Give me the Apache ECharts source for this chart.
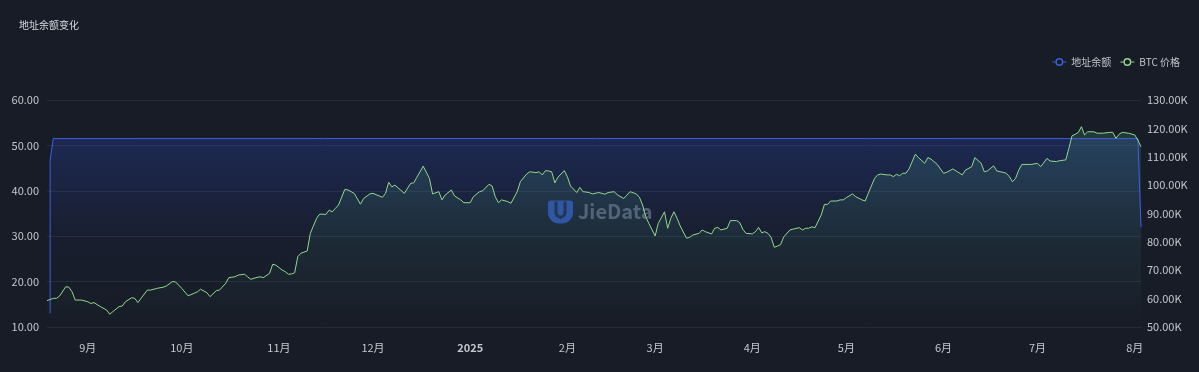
<!DOCTYPE html>
<html>
<head>
<meta charset="utf-8">
<script src="https://cdn.jsdelivr.net/npm/echarts@6/dist/echarts.min.js"></script>
<style>
  html, body { margin: 0; padding: 0; background: #131820; }
  #chart { width: 1199px; height: 372px; }
</style>
</head>
<body>
<div id="chart"></div>
<script>
// Day offsets are counted from the start date below (2024-08-19).
const startDate = [2024, 7, 19];
const seriesNames = ['地址余额', 'BTC 价格'];
const seriesColors = ['#3d5fe0', '#8fd98a'];

// 地址余额 (left axis)
const balanceDays   = [1, 1, 2, 348, 349];
const balanceValues = [13.0, 46.7, 51.5, 51.5, 32.0];

// BTC 价格 in K USD (right axis)
const btcDays = [
  0, 2, 3, 4, 6, 7, 8, 9, 11, 13, 14, 15, 17, 19, 20, 21, 23, 24, 25, 27, 28, 29, 30, 32, 33, 35, 37, 38, 40, 41,
  43, 45, 47, 48, 49, 51, 52, 54, 55, 57, 58, 60, 61, 63, 64, 65, 67, 68, 69, 71, 72, 73, 75, 76, 77, 78, 79, 80, 81, 83,
  84, 86, 87, 89, 90, 91, 92, 93, 95, 96, 98, 100, 101, 103, 104, 107, 108, 109, 110, 111, 114, 116, 117, 118, 119, 120, 122, 123, 125, 126,
  127, 129, 130, 132, 133, 135, 136, 138, 139, 141, 142, 143, 144, 145, 147, 148, 150, 151, 153, 154, 156, 157, 158, 159, 160, 161, 162, 163, 165, 166,
  167, 169, 170, 171, 173, 174, 176, 178, 179, 181, 182, 184, 185, 186, 188, 189, 190, 191, 192, 194, 195, 197, 198, 199, 200, 201, 202, 204, 205, 206,
  208, 209, 210, 212, 213, 214, 215, 217, 218, 220, 221, 222, 223, 225, 226, 227, 228, 229, 230, 231, 232, 233, 234, 235, 237, 238, 240, 241, 242, 243,
  244, 245, 247, 248, 249, 250, 252, 253, 254, 255, 257, 258, 260, 261, 262, 264, 265, 266, 268, 269, 270, 271, 272, 273, 274, 275, 276, 277, 278, 280,
  281, 282, 284, 286, 287, 289, 290, 292, 293, 295, 296, 298, 299, 300, 302, 303, 305, 306, 307, 308, 309, 310, 311, 313, 314, 316, 317, 319, 320, 322,
  323, 325, 326, 327, 328, 329, 330, 331, 332, 334, 335, 337, 339, 340, 341, 342, 343, 345, 347, 348, 349
];
const btcPrice = [
  59.3, 60.1, 60.1, 60.9, 64.2, 64.0, 62.4, 59.5, 59.5, 58.9, 58.3, 58.6, 57.2, 56.0, 54.5, 55.4, 57.2, 57.4, 58.9, 60.3, 60.1, 58.6, 60.1, 63.0, 63.0, 63.6, 64.0, 64.4, 66.0, 65.9,
  63.6, 61.0, 61.9, 62.4, 63.3, 62.1, 60.7, 62.8, 63.0, 65.4, 67.4, 67.7, 68.3, 68.6, 67.7, 66.8, 67.5, 67.7, 67.4, 68.9, 72.1, 71.8, 70.1, 69.5, 68.6, 68.7, 69.1, 74.8, 76.0, 76.8,
  83.0, 88.3, 89.8, 89.7, 91.2, 90.6, 91.8, 93.0, 98.5, 98.3, 97.1, 93.3, 95.3, 96.9, 97.1, 95.7, 97.1, 101.0, 99.4, 100.0, 97.1, 100.6, 100.8, 102.8, 104.7, 106.7, 102.4, 96.9, 97.7, 94.8,
  96.5, 98.3, 96.2, 94.8, 93.8, 93.8, 95.9, 97.7, 98.0, 100.3, 99.7, 95.9, 93.8, 94.8, 94.2, 93.6, 97.7, 101.2, 103.9, 104.7, 104.4, 104.7, 103.6, 105.1, 105.0, 104.7, 100.8, 102.8, 105.1, 103.0,
  99.7, 97.4, 99.2, 97.7, 97.4, 96.9, 97.4, 96.8, 97.4, 97.7, 96.5, 95.3, 96.5, 97.7, 96.9, 95.7, 93.0, 88.9, 86.5, 82.1, 86.5, 90.6, 84.8, 88.3, 90.6, 88.3, 85.6, 81.3, 81.6, 82.4,
  83.0, 84.2, 83.6, 82.8, 84.8, 85.1, 84.2, 84.8, 87.5, 87.5, 86.8, 84.4, 83.0, 82.8, 83.6, 85.1, 83.2, 83.6, 83.0, 81.6, 78.1, 78.5, 79.0, 81.7, 84.2, 84.5, 85.0, 84.2, 84.8, 84.8,
  85.3, 85.0, 89.5, 93.2, 93.2, 94.4, 94.4, 94.8, 94.8, 95.6, 96.9, 95.9, 94.8, 94.4, 97.1, 102.4, 103.6, 103.9, 103.6, 103.6, 103.0, 103.8, 103.3, 104.2, 104.2, 105.7, 108.3, 110.9, 109.7, 107.7,
  109.7, 109.2, 107.3, 104.2, 104.5, 105.7, 105.0, 103.6, 105.3, 106.5, 109.7, 107.7, 104.7, 105.0, 106.8, 105.0, 104.5, 104.2, 103.0, 101.2, 102.4, 105.3, 107.3, 107.3, 107.3, 107.7, 106.5, 109.4, 108.5, 108.3,
  108.6, 108.9, 113.0, 117.4, 117.9, 118.6, 120.6, 117.7, 118.8, 118.8, 118.3, 118.3, 118.6, 118.6, 116.5, 117.9, 118.6, 118.3, 117.7, 115.9, 113.5
];

// axis ranges / ticks
const leftMin = 10, leftMax = 60, leftStep = 10;
const rightMin = 50, rightMax = 130, rightStep = 10;

const DAY = 86400000;
const t0 = new Date(startDate[0], startDate[1], startDate[2]).getTime();
const toTime = d => t0 + d * DAY;
const balanceData = balanceDays.map((d, i) => [toTime(d), balanceValues[i]]);
const btcData = btcDays.map((d, i) => [toTime(d), btcPrice[i] * 1000]);

const chart = echarts.init(document.getElementById('chart'), null, { renderer: 'canvas' });
const bg = '#171c26';
const labelColor = '#c3c7cf';
const fontFam = '"Noto Sans CJK SC", "Noto Sans", sans-serif';
// legend icon: short line segments on both sides of a ring
const legendIcon = 'path://M0 3.4 H3.2 V4.6 H0 Z M10.8 3.4 H14 V4.6 H10.8 Z ' +
  'M11 4 A4 4 0 1 0 3 4 A4 4 0 1 0 11 4 Z M9.5 4 A2.5 2.5 0 1 1 4.5 4 A2.5 2.5 0 1 1 9.5 4 Z';

chart.setOption({
  backgroundColor: bg,
  animation: false,
  textStyle: { fontFamily: fontFam },
  title: {
    text: '地址余额变化',
    left: 14, top: 15,
    textStyle: { color: '#d6dae2', fontSize: 10, fontWeight: 'normal', fontFamily: fontFam }
  },
  legend: {
    right: 14, top: 52,
    itemWidth: 14, itemHeight: 8, itemGap: 9,
    icon: legendIcon,
    textStyle: { color: '#c0c4cc', fontSize: 10, fontFamily: fontFam },
    data: seriesNames
  },
  grid: { left: 47, right: 58, top: 100, bottom: 45 },
  xAxis: {
    type: 'time',
    min: toTime(0), max: toTime(349),
    splitNumber: 12,
    minInterval: 28 * DAY,
    axisLine: { show: false },
    axisTick: { show: false },
    splitLine: { show: false },
    axisLabel: {
      color: labelColor, fontSize: 11, margin: 15, fontFamily: fontFam,
      hideOverlap: false,
      formatter: function (val) {
        const d = new Date(val);
        if (d.getMonth() === 0) return '{y|' + d.getFullYear() + '}';
        return (d.getMonth() + 1) + '月';
      },
      rich: { y: { fontWeight: 'bold', color: labelColor, fontSize: 11, fontFamily: fontFam } }
    }
  },
  yAxis: [
    {
      type: 'value', min: leftMin, max: leftMax, interval: leftStep,
      axisLine: { show: false }, axisTick: { show: false },
      splitLine: { lineStyle: { color: '#262c38', width: 1 } },
      axisLabel: { color: labelColor, fontSize: 11, margin: 8, formatter: v => v.toFixed(2) }
    },
    {
      type: 'value', min: rightMin * 1000, max: rightMax * 1000, interval: rightStep * 1000,
      axisLine: { show: false }, axisTick: { show: false },
      splitLine: { show: false },
      axisLabel: { color: labelColor, fontSize: 11, margin: 6, formatter: v => (v / 1000).toFixed(2) + 'K' }
    }
  ],
  graphic: [
    {
      type: 'group', left: 548, top: 199, silent: true,
      children: [
        { type: 'rect', shape: { x: 0, y: 0, width: 25, height: 23, r: [3, 3, 11, 11] },
          style: { fill: 'rgba(52,92,210,0.75)' } },
        { type: 'polyline',
          shape: { points: [[8, 1], [8, 12], [9, 15], [12.5, 17], [16, 15], [17, 12], [17, 1]] },
          style: { fill: 'none', stroke: 'rgba(23,28,38,0.85)', lineWidth: 3 } }
      ]
    },
    {
      type: 'text', left: 578, top: 201, silent: true,
      style: { text: 'JieData', fill: 'rgba(140,150,168,0.55)', font: 'bold 20px ' + fontFam }
    }
  ],
  series: [
    {
      name: seriesNames[0], type: 'line', yAxisIndex: 0,
      data: balanceData,
      showSymbol: false, symbol: 'emptyCircle',
      lineStyle: { color: seriesColors[0], width: 1 },
      itemStyle: { color: seriesColors[0] },
      areaStyle: {
        color: new echarts.graphic.LinearGradient(0, 0, 0, 1, [
          { offset: 0, color: 'rgba(45,75,205,0.38)' },
          { offset: 0.55, color: 'rgba(45,75,205,0.06)' },
          { offset: 1, color: 'rgba(45,75,205,0)' }
        ])
      }
    },
    {
      name: seriesNames[1], type: 'line', yAxisIndex: 1,
      data: btcData,
      showSymbol: false, symbol: 'emptyCircle', smooth: false,
      lineStyle: { color: seriesColors[1], width: 1 },
      itemStyle: { color: seriesColors[1] },
      areaStyle: {
        color: new echarts.graphic.LinearGradient(0, 0, 0, 1, [
          { offset: 0, color: 'rgba(70,150,130,0.35)' },
          { offset: 1, color: 'rgba(70,150,130,0)' }
        ])
      }
    }
  ]
});
</script>
</body>
</html>
